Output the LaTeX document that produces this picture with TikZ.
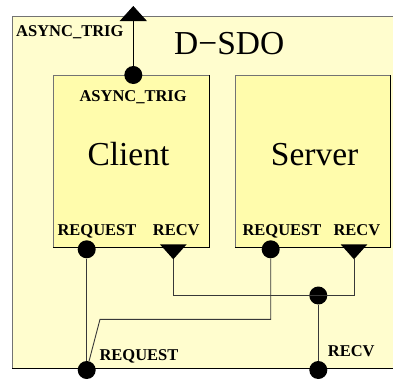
\documentclass[tikz,border=0pt]{standalone}
\usepackage{fontspec}
\setmainfont{Liberation Serif}
\usetikzlibrary{arrows.meta,positioning}

\definecolor{sdofill}{RGB}{255,253,206}
\definecolor{unitfill}{RGB}{255,252,172}

\begin{document}
\begin{tikzpicture}[
  x=1pt, y=-1pt,
  line join=miter,
  unit/.style={rectangle, fill=unitfill, inner sep=0pt, outer sep=0pt},
  outer/.style={rectangle, fill=sdofill, inner sep=0pt, outer sep=0pt},
  edgelite/.style={draw=black!55, line width=1pt},
  edgedark/.style={draw=black, line width=1pt},
  port/.style={circle, fill=black, inner sep=0pt, minimum size=18pt},
  wire/.style={draw=black!78, line width=0.9pt},
  portlabel/.style={font=\fontsize{16.5}{18}\selectfont\bfseries, inner sep=0pt, anchor=base west},
  unitlabel/.style={font=\fontsize{33.5}{36}\selectfont, inner sep=0pt, anchor=base west}
]

\useasboundingbox (0,0) rectangle (393,381);
\clip (0,0) rectangle (393,381);

\def\portY{249.3}
\def\recvY{259.3}
\def\busY{295.5}
\def\outY{370}

% D-SDO container (right side runs off the picture).
\node[outer, minimum width=388pt, minimum height=351.3pt] (sdo) at (206,192.35) {};
\draw[edgelite] (sdo.south west) |- (sdo.north east);
\draw[edgedark] (sdo.south west) -- (sdo.south east);
\node[unitlabel] (sdoname) at (174,54) {D−SDO};

% Client and Server units.
\node[unit, minimum width=156pt, minimum height=172.3pt] (client) at (131.3,161.15) {};
\node[unit, minimum width=155pt, minimum height=172.3pt] (server) at (312.5,161.15) {};
\foreach \u in {client,server}{
  \draw[edgelite] (\u.south west) |- (\u.north east);
  \draw[edgedark] (\u.north east) |- (\u.south west);
}
\node[unitlabel] (clientname) at (87.3,165) {Client};
\node[unitlabel] (servername) at (270.7,165) {Server};

% Port labels.
\node[portlabel] (otriglbl) at (16,36.7) {ASYNC\_TRIG};
\node[portlabel] (ctriglbl) at (79.3,101) {ASYNC\_TRIG};
\node[portlabel] (creqlbl) at (57.3,235) {REQUEST};
\node[portlabel] (crecvlbl) at (152.7,235) {RECV};
\node[portlabel] (sreqlbl) at (242.3,235) {REQUEST};
\node[portlabel] (srecvlbl) at (333.3,235) {RECV};
\node[portlabel] (oreqlbl) at (99.3,360.7) {REQUEST};
\node[portlabel] (orecvlbl) at (327.7,356) {RECV};

% Ports.
\coordinate (otrig) at (133.3,6);
\coordinate (crecv) at (173.3,\recvY);
\coordinate (srecv) at (354,\recvY);
\coordinate (bend) at (100,319.3);
\node[port] (ctrig) at (133.3,75) {};
\node[port] (creq) at (86.7,\portY) {};
\node[port] (sreq) at (270.7,\portY) {};
\node[port] (junc) at (318.3,\busY) {};
\node[port] (oreq) at (86.7,\outY) {};
\node[port] (orecv) at (318.3,\outY) {};

% Wiring.
\draw[wire, draw=black, -{Triangle[length=15pt,width=27pt]}] (ctrig) -- (otrig);
\draw[wire] (creq) -- (oreq);
\draw[wire] (crecv) |- (srecv |- junc) -- (srecv);
\draw[wire] (junc) -- (orecv);
\draw[wire] (sreq) |- (bend) -- (oreq);

% Receive ports.
\foreach \r in {crecv,srecv}{
  \fill (\r) -- ++(-13.4,-15) -- ++(26.8,0) -- cycle;
}

\end{tikzpicture}
\end{document}
